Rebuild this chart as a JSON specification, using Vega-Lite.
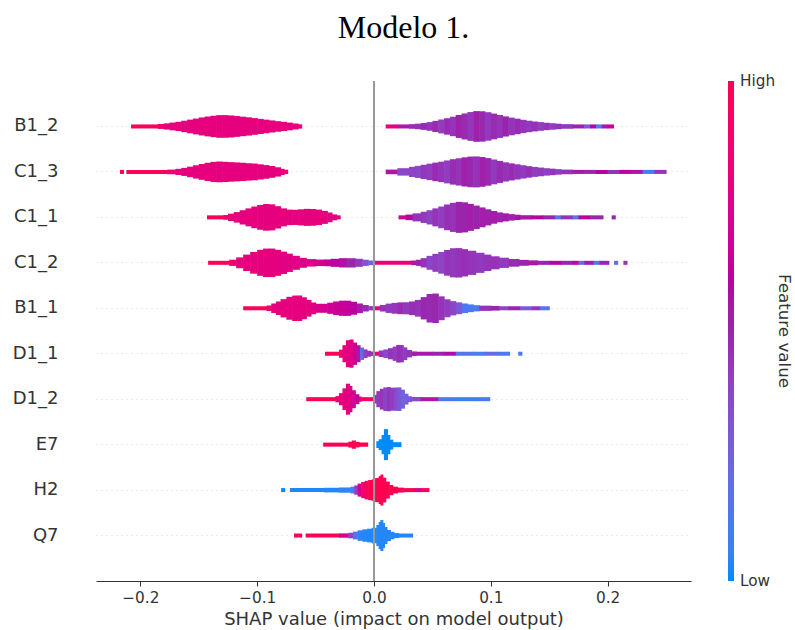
{
"$schema": "https://vega.github.io/schema/vega-lite/v6.json",
"autosize": "none",
"width": 595,
"height": 500,
"padding": {"left": 96, "top": 81, "right": 104, "bottom": 49},
"background": "white",
"title": {"text": "Modelo 1.", "font": "Liberation Serif", "fontSize": 32, "fontWeight": "normal", "color": "black", "anchor": "middle", "frame": "group", "baseline": "alphabetic", "offset": 10, "dx": 10},
"config": {"view": {"stroke": null}},
"datasets": {
"segs": [
{"f":"B1_2","x":-0.208,"x2":-0.185,"d":0.13,"c":0.97},
{"f":"B1_2","x":-0.185,"x2":-0.18,"d":0.16,"c":0.85},
{"f":"B1_2","x":-0.18,"x2":-0.175,"d":0.2,"c":0.8},
{"f":"B1_2","x":-0.175,"x2":-0.17,"d":0.25,"c":0.8},
{"f":"B1_2","x":-0.17,"x2":-0.165,"d":0.3,"c":0.8},
{"f":"B1_2","x":-0.165,"x2":-0.16,"d":0.37,"c":0.8},
{"f":"B1_2","x":-0.16,"x2":-0.155,"d":0.44,"c":0.8},
{"f":"B1_2","x":-0.155,"x2":-0.15,"d":0.51,"c":0.8},
{"f":"B1_2","x":-0.15,"x2":-0.145,"d":0.58,"c":0.8},
{"f":"B1_2","x":-0.145,"x2":-0.14,"d":0.64,"c":0.8},
{"f":"B1_2","x":-0.14,"x2":-0.135,"d":0.69,"c":0.8},
{"f":"B1_2","x":-0.135,"x2":-0.13,"d":0.73,"c":0.8},
{"f":"B1_2","x":-0.13,"x2":-0.125,"d":0.73,"c":0.8},
{"f":"B1_2","x":-0.125,"x2":-0.12,"d":0.71,"c":0.8},
{"f":"B1_2","x":-0.12,"x2":-0.115,"d":0.67,"c":0.8},
{"f":"B1_2","x":-0.115,"x2":-0.11,"d":0.63,"c":0.8},
{"f":"B1_2","x":-0.11,"x2":-0.105,"d":0.59,"c":0.8},
{"f":"B1_2","x":-0.105,"x2":-0.1,"d":0.54,"c":0.8},
{"f":"B1_2","x":-0.1,"x2":-0.095,"d":0.49,"c":0.8},
{"f":"B1_2","x":-0.095,"x2":-0.09,"d":0.44,"c":0.8},
{"f":"B1_2","x":-0.09,"x2":-0.085,"d":0.39,"c":0.8},
{"f":"B1_2","x":-0.085,"x2":-0.08,"d":0.34,"c":0.8},
{"f":"B1_2","x":-0.08,"x2":-0.075,"d":0.3,"c":0.8},
{"f":"B1_2","x":-0.075,"x2":-0.07,"d":0.25,"c":0.8},
{"f":"B1_2","x":-0.07,"x2":-0.065,"d":0.19,"c":0.8},
{"f":"B1_2","x":-0.065,"x2":-0.062,"d":0.14,"c":0.82},
{"f":"B1_2","x":0.01,"x2":0.02,"d":0.13,"c":0.8},
{"f":"B1_2","x":0.02,"x2":0.03,"d":0.13,"c":0.55},
{"f":"B1_2","x":0.03,"x2":0.035,"d":0.15,"c":0.48},
{"f":"B1_2","x":0.035,"x2":0.04,"d":0.18,"c":0.46},
{"f":"B1_2","x":0.04,"x2":0.045,"d":0.22,"c":0.48},
{"f":"B1_2","x":0.045,"x2":0.05,"d":0.28,"c":0.44},
{"f":"B1_2","x":0.05,"x2":0.055,"d":0.36,"c":0.48},
{"f":"B1_2","x":0.055,"x2":0.06,"d":0.45,"c":0.42},
{"f":"B1_2","x":0.06,"x2":0.065,"d":0.53,"c":0.48},
{"f":"B1_2","x":0.065,"x2":0.07,"d":0.63,"c":0.45},
{"f":"B1_2","x":0.07,"x2":0.075,"d":0.74,"c":0.52},
{"f":"B1_2","x":0.075,"x2":0.08,"d":0.84,"c":0.48},
{"f":"B1_2","x":0.08,"x2":0.085,"d":0.93,"c":0.44},
{"f":"B1_2","x":0.085,"x2":0.09,"d":0.99,"c":0.52},
{"f":"B1_2","x":0.09,"x2":0.095,"d":0.98,"c":0.49},
{"f":"B1_2","x":0.095,"x2":0.1,"d":0.92,"c":0.43},
{"f":"B1_2","x":0.1,"x2":0.105,"d":0.83,"c":0.48},
{"f":"B1_2","x":0.105,"x2":0.11,"d":0.74,"c":0.45},
{"f":"B1_2","x":0.11,"x2":0.115,"d":0.65,"c":0.5},
{"f":"B1_2","x":0.115,"x2":0.12,"d":0.57,"c":0.45},
{"f":"B1_2","x":0.12,"x2":0.125,"d":0.5,"c":0.48},
{"f":"B1_2","x":0.125,"x2":0.13,"d":0.43,"c":0.45},
{"f":"B1_2","x":0.13,"x2":0.135,"d":0.37,"c":0.43},
{"f":"B1_2","x":0.135,"x2":0.14,"d":0.32,"c":0.46},
{"f":"B1_2","x":0.14,"x2":0.145,"d":0.28,"c":0.42},
{"f":"B1_2","x":0.145,"x2":0.15,"d":0.24,"c":0.45},
{"f":"B1_2","x":0.15,"x2":0.155,"d":0.21,"c":0.42},
{"f":"B1_2","x":0.155,"x2":0.16,"d":0.18,"c":0.45},
{"f":"B1_2","x":0.16,"x2":0.17,"d":0.15,"c":0.43},
{"f":"B1_2","x":0.17,"x2":0.18,"d":0.13,"c":0.5},
{"f":"B1_2","x":0.18,"x2":0.185,"d":0.13,"c":0.3},
{"f":"B1_2","x":0.185,"x2":0.19,"d":0.13,"c":0.6},
{"f":"B1_2","x":0.19,"x2":0.195,"d":0.13,"c":0.15},
{"f":"B1_2","x":0.195,"x2":0.2,"d":0.13,"c":0.55},
{"f":"B1_2","x":0.2,"x2":0.205,"d":0.13,"c":0.65},

{"f":"C1_3","x":-0.2175,"x2":-0.2145,"d":0.13,"c":1},
{"f":"C1_3","x":-0.212,"x2":-0.177,"d":0.13,"c":0.97},
{"f":"C1_3","x":-0.177,"x2":-0.17,"d":0.15,"c":0.85},
{"f":"C1_3","x":-0.17,"x2":-0.165,"d":0.2,"c":0.8},
{"f":"C1_3","x":-0.165,"x2":-0.16,"d":0.26,"c":0.8},
{"f":"C1_3","x":-0.16,"x2":-0.155,"d":0.34,"c":0.8},
{"f":"C1_3","x":-0.155,"x2":-0.15,"d":0.43,"c":0.8},
{"f":"C1_3","x":-0.15,"x2":-0.145,"d":0.51,"c":0.8},
{"f":"C1_3","x":-0.145,"x2":-0.14,"d":0.59,"c":0.8},
{"f":"C1_3","x":-0.14,"x2":-0.135,"d":0.65,"c":0.8},
{"f":"C1_3","x":-0.135,"x2":-0.13,"d":0.67,"c":0.8},
{"f":"C1_3","x":-0.13,"x2":-0.125,"d":0.65,"c":0.8},
{"f":"C1_3","x":-0.125,"x2":-0.12,"d":0.63,"c":0.8},
{"f":"C1_3","x":-0.12,"x2":-0.115,"d":0.61,"c":0.8},
{"f":"C1_3","x":-0.115,"x2":-0.11,"d":0.59,"c":0.8},
{"f":"C1_3","x":-0.11,"x2":-0.105,"d":0.56,"c":0.8},
{"f":"C1_3","x":-0.105,"x2":-0.1,"d":0.54,"c":0.8},
{"f":"C1_3","x":-0.1,"x2":-0.095,"d":0.49,"c":0.8},
{"f":"C1_3","x":-0.095,"x2":-0.09,"d":0.44,"c":0.8},
{"f":"C1_3","x":-0.09,"x2":-0.085,"d":0.38,"c":0.8},
{"f":"C1_3","x":-0.085,"x2":-0.08,"d":0.3,"c":0.8},
{"f":"C1_3","x":-0.08,"x2":-0.077,"d":0.2,"c":0.8},
{"f":"C1_3","x":-0.077,"x2":-0.074,"d":0.14,"c":0.85},
{"f":"C1_3","x":0.01,"x2":0.02,"d":0.15,"c":0.55},
{"f":"C1_3","x":0.02,"x2":0.03,"d":0.24,"c":0.38},
{"f":"C1_3","x":0.03,"x2":0.035,"d":0.33,"c":0.4},
{"f":"C1_3","x":0.035,"x2":0.04,"d":0.39,"c":0.38},
{"f":"C1_3","x":0.04,"x2":0.045,"d":0.46,"c":0.44},
{"f":"C1_3","x":0.045,"x2":0.05,"d":0.53,"c":0.42},
{"f":"C1_3","x":0.05,"x2":0.055,"d":0.6,"c":0.48},
{"f":"C1_3","x":0.055,"x2":0.06,"d":0.66,"c":0.45},
{"f":"C1_3","x":0.06,"x2":0.065,"d":0.74,"c":0.42},
{"f":"C1_3","x":0.065,"x2":0.07,"d":0.82,"c":0.48},
{"f":"C1_3","x":0.07,"x2":0.075,"d":0.88,"c":0.45},
{"f":"C1_3","x":0.075,"x2":0.08,"d":0.94,"c":0.52},
{"f":"C1_3","x":0.08,"x2":0.085,"d":0.99,"c":0.49},
{"f":"C1_3","x":0.085,"x2":0.09,"d":1.0,"c":0.46},
{"f":"C1_3","x":0.09,"x2":0.095,"d":0.96,"c":0.52},
{"f":"C1_3","x":0.095,"x2":0.1,"d":0.89,"c":0.49},
{"f":"C1_3","x":0.1,"x2":0.105,"d":0.8,"c":0.43},
{"f":"C1_3","x":0.105,"x2":0.11,"d":0.71,"c":0.48},
{"f":"C1_3","x":0.11,"x2":0.115,"d":0.62,"c":0.45},
{"f":"C1_3","x":0.115,"x2":0.12,"d":0.55,"c":0.48},
{"f":"C1_3","x":0.12,"x2":0.125,"d":0.49,"c":0.45},
{"f":"C1_3","x":0.125,"x2":0.13,"d":0.43,"c":0.43},
{"f":"C1_3","x":0.13,"x2":0.135,"d":0.37,"c":0.47},
{"f":"C1_3","x":0.135,"x2":0.14,"d":0.32,"c":0.42},
{"f":"C1_3","x":0.14,"x2":0.145,"d":0.28,"c":0.43},
{"f":"C1_3","x":0.145,"x2":0.15,"d":0.24,"c":0.41},
{"f":"C1_3","x":0.15,"x2":0.155,"d":0.21,"c":0.45},
{"f":"C1_3","x":0.155,"x2":0.16,"d":0.18,"c":0.41},
{"f":"C1_3","x":0.16,"x2":0.17,"d":0.15,"c":0.45},
{"f":"C1_3","x":0.17,"x2":0.18,"d":0.13,"c":0.55},
{"f":"C1_3","x":0.18,"x2":0.19,"d":0.13,"c":0.5},
{"f":"C1_3","x":0.19,"x2":0.2,"d":0.13,"c":0.6},
{"f":"C1_3","x":0.2,"x2":0.21,"d":0.13,"c":0.45},
{"f":"C1_3","x":0.21,"x2":0.22,"d":0.13,"c":0.62},
{"f":"C1_3","x":0.22,"x2":0.23,"d":0.13,"c":0.55},
{"f":"C1_3","x":0.23,"x2":0.24,"d":0.13,"c":0.1},
{"f":"C1_3","x":0.24,"x2":0.25,"d":0.13,"c":0.45},

{"f":"C1_1","x":-0.143,"x2":-0.129,"d":0.13,"c":0.97},
{"f":"C1_1","x":-0.129,"x2":-0.125,"d":0.16,"c":0.85},
{"f":"C1_1","x":-0.125,"x2":-0.12,"d":0.24,"c":0.8},
{"f":"C1_1","x":-0.12,"x2":-0.115,"d":0.34,"c":0.8},
{"f":"C1_1","x":-0.115,"x2":-0.11,"d":0.46,"c":0.8},
{"f":"C1_1","x":-0.11,"x2":-0.105,"d":0.58,"c":0.8},
{"f":"C1_1","x":-0.105,"x2":-0.1,"d":0.7,"c":0.8},
{"f":"C1_1","x":-0.1,"x2":-0.095,"d":0.8,"c":0.8},
{"f":"C1_1","x":-0.095,"x2":-0.09,"d":0.86,"c":0.8},
{"f":"C1_1","x":-0.09,"x2":-0.085,"d":0.84,"c":0.8},
{"f":"C1_1","x":-0.085,"x2":-0.08,"d":0.72,"c":0.8},
{"f":"C1_1","x":-0.08,"x2":-0.075,"d":0.58,"c":0.8},
{"f":"C1_1","x":-0.075,"x2":-0.07,"d":0.5,"c":0.8},
{"f":"C1_1","x":-0.07,"x2":-0.065,"d":0.49,"c":0.8},
{"f":"C1_1","x":-0.065,"x2":-0.06,"d":0.52,"c":0.8},
{"f":"C1_1","x":-0.06,"x2":-0.055,"d":0.55,"c":0.8},
{"f":"C1_1","x":-0.055,"x2":-0.05,"d":0.54,"c":0.8},
{"f":"C1_1","x":-0.05,"x2":-0.045,"d":0.5,"c":0.8},
{"f":"C1_1","x":-0.045,"x2":-0.04,"d":0.42,"c":0.8},
{"f":"C1_1","x":-0.04,"x2":-0.036,"d":0.32,"c":0.8},
{"f":"C1_1","x":-0.036,"x2":-0.032,"d":0.19,"c":0.8},
{"f":"C1_1","x":-0.032,"x2":-0.029,"d":0.13,"c":0.8},
{"f":"C1_1","x":0.021,"x2":0.027,"d":0.13,"c":0.7},
{"f":"C1_1","x":0.027,"x2":0.033,"d":0.18,"c":0.6},
{"f":"C1_1","x":0.033,"x2":0.04,"d":0.26,"c":0.45},
{"f":"C1_1","x":0.04,"x2":0.045,"d":0.36,"c":0.43},
{"f":"C1_1","x":0.045,"x2":0.05,"d":0.46,"c":0.4},
{"f":"C1_1","x":0.05,"x2":0.055,"d":0.58,"c":0.45},
{"f":"C1_1","x":0.055,"x2":0.06,"d":0.7,"c":0.42},
{"f":"C1_1","x":0.06,"x2":0.065,"d":0.83,"c":0.47},
{"f":"C1_1","x":0.065,"x2":0.07,"d":0.94,"c":0.45},
{"f":"C1_1","x":0.07,"x2":0.075,"d":1.0,"c":0.5},
{"f":"C1_1","x":0.075,"x2":0.08,"d":0.97,"c":0.5},
{"f":"C1_1","x":0.08,"x2":0.085,"d":0.87,"c":0.53},
{"f":"C1_1","x":0.085,"x2":0.09,"d":0.76,"c":0.5},
{"f":"C1_1","x":0.09,"x2":0.095,"d":0.64,"c":0.53},
{"f":"C1_1","x":0.095,"x2":0.1,"d":0.52,"c":0.52},
{"f":"C1_1","x":0.1,"x2":0.105,"d":0.41,"c":0.54},
{"f":"C1_1","x":0.105,"x2":0.11,"d":0.32,"c":0.5},
{"f":"C1_1","x":0.11,"x2":0.115,"d":0.26,"c":0.54},
{"f":"C1_1","x":0.115,"x2":0.12,"d":0.21,"c":0.5},
{"f":"C1_1","x":0.12,"x2":0.125,"d":0.17,"c":0.57},
{"f":"C1_1","x":0.125,"x2":0.135,"d":0.14,"c":0.55},
{"f":"C1_1","x":0.135,"x2":0.145,"d":0.13,"c":0.6},
{"f":"C1_1","x":0.145,"x2":0.155,"d":0.13,"c":0.5},
{"f":"C1_1","x":0.155,"x2":0.16,"d":0.13,"c":0.15},
{"f":"C1_1","x":0.16,"x2":0.17,"d":0.13,"c":0.45},
{"f":"C1_1","x":0.17,"x2":0.175,"d":0.13,"c":0.15},
{"f":"C1_1","x":0.175,"x2":0.185,"d":0.13,"c":0.6},
{"f":"C1_1","x":0.185,"x2":0.196,"d":0.13,"c":0.5},
{"f":"C1_1","x":0.2035,"x2":0.2065,"d":0.13,"c":0.5},

{"f":"C1_2","x":-0.142,"x2":-0.124,"d":0.13,"c":0.97},
{"f":"C1_2","x":-0.124,"x2":-0.118,"d":0.2,"c":0.85},
{"f":"C1_2","x":-0.118,"x2":-0.112,"d":0.35,"c":0.8},
{"f":"C1_2","x":-0.112,"x2":-0.106,"d":0.53,"c":0.8},
{"f":"C1_2","x":-0.106,"x2":-0.1,"d":0.7,"c":0.8},
{"f":"C1_2","x":-0.1,"x2":-0.095,"d":0.84,"c":0.8},
{"f":"C1_2","x":-0.095,"x2":-0.09,"d":0.92,"c":0.8},
{"f":"C1_2","x":-0.09,"x2":-0.085,"d":0.92,"c":0.8},
{"f":"C1_2","x":-0.085,"x2":-0.08,"d":0.84,"c":0.79},
{"f":"C1_2","x":-0.08,"x2":-0.075,"d":0.72,"c":0.78},
{"f":"C1_2","x":-0.075,"x2":-0.07,"d":0.59,"c":0.77},
{"f":"C1_2","x":-0.07,"x2":-0.064,"d":0.45,"c":0.76},
{"f":"C1_2","x":-0.064,"x2":-0.058,"d":0.32,"c":0.75},
{"f":"C1_2","x":-0.058,"x2":-0.05,"d":0.24,"c":0.73},
{"f":"C1_2","x":-0.05,"x2":-0.043,"d":0.21,"c":0.7},
{"f":"C1_2","x":-0.043,"x2":-0.037,"d":0.22,"c":0.66},
{"f":"C1_2","x":-0.037,"x2":-0.03,"d":0.26,"c":0.62},
{"f":"C1_2","x":-0.03,"x2":-0.023,"d":0.3,"c":0.57},
{"f":"C1_2","x":-0.023,"x2":-0.016,"d":0.3,"c":0.5},
{"f":"C1_2","x":-0.016,"x2":-0.01,"d":0.26,"c":0.43},
{"f":"C1_2","x":-0.01,"x2":-0.005,"d":0.2,"c":0.33},
{"f":"C1_2","x":-0.005,"x2":0,"d":0.15,"c":0.22},
{"f":"C1_2","x":0,"x2":0.032,"d":0.13,"c":0.82},
{"f":"C1_2","x":0.032,"x2":0.036,"d":0.15,"c":0.55},
{"f":"C1_2","x":0.036,"x2":0.04,"d":0.2,"c":0.5},
{"f":"C1_2","x":0.04,"x2":0.045,"d":0.3,"c":0.45},
{"f":"C1_2","x":0.045,"x2":0.05,"d":0.45,"c":0.38},
{"f":"C1_2","x":0.05,"x2":0.055,"d":0.58,"c":0.42},
{"f":"C1_2","x":0.055,"x2":0.06,"d":0.7,"c":0.4},
{"f":"C1_2","x":0.06,"x2":0.065,"d":0.83,"c":0.45},
{"f":"C1_2","x":0.065,"x2":0.07,"d":0.94,"c":0.43},
{"f":"C1_2","x":0.07,"x2":0.075,"d":0.95,"c":0.45},
{"f":"C1_2","x":0.075,"x2":0.08,"d":0.88,"c":0.47},
{"f":"C1_2","x":0.08,"x2":0.087,"d":0.78,"c":0.45},
{"f":"C1_2","x":0.087,"x2":0.094,"d":0.65,"c":0.43},
{"f":"C1_2","x":0.094,"x2":0.1,"d":0.53,"c":0.45},
{"f":"C1_2","x":0.1,"x2":0.107,"d":0.42,"c":0.45},
{"f":"C1_2","x":0.107,"x2":0.115,"d":0.33,"c":0.43},
{"f":"C1_2","x":0.115,"x2":0.124,"d":0.25,"c":0.48},
{"f":"C1_2","x":0.124,"x2":0.132,"d":0.19,"c":0.5},
{"f":"C1_2","x":0.132,"x2":0.14,"d":0.16,"c":0.55},
{"f":"C1_2","x":0.14,"x2":0.15,"d":0.13,"c":0.5},
{"f":"C1_2","x":0.15,"x2":0.16,"d":0.13,"c":0.6},
{"f":"C1_2","x":0.16,"x2":0.17,"d":0.13,"c":0.5},
{"f":"C1_2","x":0.17,"x2":0.175,"d":0.13,"c":0.65},
{"f":"C1_2","x":0.175,"x2":0.18,"d":0.13,"c":0.2},
{"f":"C1_2","x":0.18,"x2":0.188,"d":0.13,"c":0.55},
{"f":"C1_2","x":0.188,"x2":0.193,"d":0.13,"c":0.1},
{"f":"C1_2","x":0.193,"x2":0.201,"d":0.13,"c":0.5},
{"f":"C1_2","x":0.2055,"x2":0.2085,"d":0.13,"c":0.2},
{"f":"C1_2","x":0.2135,"x2":0.2165,"d":0.13,"c":0.45},

{"f":"B1_1","x":-0.112,"x2":-0.092,"d":0.13,"c":0.97},
{"f":"B1_1","x":-0.092,"x2":-0.088,"d":0.18,"c":0.85},
{"f":"B1_1","x":-0.088,"x2":-0.084,"d":0.3,"c":0.8},
{"f":"B1_1","x":-0.084,"x2":-0.08,"d":0.44,"c":0.8},
{"f":"B1_1","x":-0.08,"x2":-0.075,"d":0.59,"c":0.8},
{"f":"B1_1","x":-0.075,"x2":-0.07,"d":0.74,"c":0.8},
{"f":"B1_1","x":-0.07,"x2":-0.066,"d":0.82,"c":0.8},
{"f":"B1_1","x":-0.066,"x2":-0.062,"d":0.82,"c":0.8},
{"f":"B1_1","x":-0.062,"x2":-0.058,"d":0.71,"c":0.8},
{"f":"B1_1","x":-0.058,"x2":-0.054,"d":0.54,"c":0.79},
{"f":"B1_1","x":-0.054,"x2":-0.05,"d":0.38,"c":0.77},
{"f":"B1_1","x":-0.05,"x2":-0.045,"d":0.29,"c":0.74},
{"f":"B1_1","x":-0.045,"x2":-0.04,"d":0.29,"c":0.71},
{"f":"B1_1","x":-0.04,"x2":-0.035,"d":0.36,"c":0.69},
{"f":"B1_1","x":-0.035,"x2":-0.03,"d":0.44,"c":0.67},
{"f":"B1_1","x":-0.03,"x2":-0.025,"d":0.49,"c":0.66},
{"f":"B1_1","x":-0.025,"x2":-0.02,"d":0.49,"c":0.64},
{"f":"B1_1","x":-0.02,"x2":-0.015,"d":0.42,"c":0.61},
{"f":"B1_1","x":-0.015,"x2":-0.01,"d":0.31,"c":0.55},
{"f":"B1_1","x":-0.01,"x2":-0.005,"d":0.21,"c":0.48},
{"f":"B1_1","x":-0.005,"x2":0,"d":0.14,"c":0.42},
{"f":"B1_1","x":0,"x2":0.005,"d":0.13,"c":0.82},
{"f":"B1_1","x":0.005,"x2":0.01,"d":0.21,"c":0.45},
{"f":"B1_1","x":0.01,"x2":0.015,"d":0.3,"c":0.43},
{"f":"B1_1","x":0.015,"x2":0.02,"d":0.35,"c":0.45},
{"f":"B1_1","x":0.02,"x2":0.025,"d":0.38,"c":0.48},
{"f":"B1_1","x":0.025,"x2":0.03,"d":0.39,"c":0.43},
{"f":"B1_1","x":0.03,"x2":0.035,"d":0.44,"c":0.47},
{"f":"B1_1","x":0.035,"x2":0.04,"d":0.54,"c":0.45},
{"f":"B1_1","x":0.04,"x2":0.045,"d":0.72,"c":0.49},
{"f":"B1_1","x":0.045,"x2":0.05,"d":0.92,"c":0.48},
{"f":"B1_1","x":0.05,"x2":0.055,"d":0.95,"c":0.49},
{"f":"B1_1","x":0.055,"x2":0.06,"d":0.77,"c":0.45},
{"f":"B1_1","x":0.06,"x2":0.065,"d":0.58,"c":0.42},
{"f":"B1_1","x":0.065,"x2":0.07,"d":0.46,"c":0.38},
{"f":"B1_1","x":0.07,"x2":0.075,"d":0.38,"c":0.3},
{"f":"B1_1","x":0.075,"x2":0.08,"d":0.31,"c":0.12},
{"f":"B1_1","x":0.08,"x2":0.085,"d":0.25,"c":0.1},
{"f":"B1_1","x":0.085,"x2":0.09,"d":0.2,"c":0.12},
{"f":"B1_1","x":0.09,"x2":0.1,"d":0.17,"c":0.45},
{"f":"B1_1","x":0.1,"x2":0.107,"d":0.15,"c":0.5},
{"f":"B1_1","x":0.107,"x2":0.115,"d":0.13,"c":0.4},
{"f":"B1_1","x":0.115,"x2":0.125,"d":0.13,"c":0.5},
{"f":"B1_1","x":0.125,"x2":0.135,"d":0.13,"c":0.3},
{"f":"B1_1","x":0.135,"x2":0.142,"d":0.13,"c":0.45},
{"f":"B1_1","x":0.142,"x2":0.15,"d":0.13,"c":0.15},

{"f":"D1_1","x":-0.042,"x2":-0.03,"d":0.13,"c":0.97},
{"f":"D1_1","x":-0.03,"x2":-0.027,"d":0.26,"c":0.85},
{"f":"D1_1","x":-0.027,"x2":-0.024,"d":0.55,"c":0.8},
{"f":"D1_1","x":-0.024,"x2":-0.021,"d":0.87,"c":0.79},
{"f":"D1_1","x":-0.021,"x2":-0.018,"d":0.91,"c":0.75},
{"f":"D1_1","x":-0.018,"x2":-0.015,"d":0.72,"c":0.68},
{"f":"D1_1","x":-0.015,"x2":-0.012,"d":0.55,"c":0.56},
{"f":"D1_1","x":-0.012,"x2":-0.009,"d":0.4,"c":0.2},
{"f":"D1_1","x":-0.009,"x2":-0.006,"d":0.28,"c":0.42},
{"f":"D1_1","x":-0.006,"x2":-0.003,"d":0.19,"c":0.45},
{"f":"D1_1","x":-0.003,"x2":0,"d":0.14,"c":0.45},
{"f":"D1_1","x":0,"x2":0.004,"d":0.13,"c":0.82},
{"f":"D1_1","x":0.004,"x2":0.008,"d":0.21,"c":0.45},
{"f":"D1_1","x":0.008,"x2":0.012,"d":0.28,"c":0.37},
{"f":"D1_1","x":0.012,"x2":0.016,"d":0.36,"c":0.45},
{"f":"D1_1","x":0.016,"x2":0.019,"d":0.46,"c":0.42},
{"f":"D1_1","x":0.019,"x2":0.022,"d":0.57,"c":0.47},
{"f":"D1_1","x":0.022,"x2":0.025,"d":0.56,"c":0.45},
{"f":"D1_1","x":0.025,"x2":0.028,"d":0.41,"c":0.42},
{"f":"D1_1","x":0.028,"x2":0.032,"d":0.24,"c":0.45},
{"f":"D1_1","x":0.032,"x2":0.036,"d":0.15,"c":0.5},
{"f":"D1_1","x":0.036,"x2":0.05,"d":0.13,"c":0.55},
{"f":"D1_1","x":0.05,"x2":0.06,"d":0.13,"c":0.5},
{"f":"D1_1","x":0.06,"x2":0.07,"d":0.13,"c":0.58},
{"f":"D1_1","x":0.07,"x2":0.085,"d":0.13,"c":0.15},
{"f":"D1_1","x":0.085,"x2":0.095,"d":0.13,"c":0.1},
{"f":"D1_1","x":0.095,"x2":0.105,"d":0.13,"c":0.2},
{"f":"D1_1","x":0.105,"x2":0.116,"d":0.13,"c":0.12},
{"f":"D1_1","x":0.1235,"x2":0.1265,"d":0.13,"c":0.1},

{"f":"D1_2","x":-0.058,"x2":-0.033,"d":0.13,"c":0.97},
{"f":"D1_2","x":-0.033,"x2":-0.03,"d":0.2,"c":0.85},
{"f":"D1_2","x":-0.03,"x2":-0.027,"d":0.39,"c":0.8},
{"f":"D1_2","x":-0.027,"x2":-0.024,"d":0.7,"c":0.8},
{"f":"D1_2","x":-0.024,"x2":-0.021,"d":1.0,"c":0.79},
{"f":"D1_2","x":-0.021,"x2":-0.019,"d":0.85,"c":0.77},
{"f":"D1_2","x":-0.019,"x2":-0.016,"d":0.58,"c":0.7},
{"f":"D1_2","x":-0.016,"x2":-0.013,"d":0.32,"c":0.62},
{"f":"D1_2","x":-0.013,"x2":-0.011,"d":0.17,"c":0.85},
{"f":"D1_2","x":-0.011,"x2":0,"d":0.13,"c":0.9},
{"f":"D1_2","x":0,"x2":0.002,"d":0.28,"c":0.45},
{"f":"D1_2","x":0.002,"x2":0.005,"d":0.52,"c":0.43},
{"f":"D1_2","x":0.005,"x2":0.008,"d":0.67,"c":0.45},
{"f":"D1_2","x":0.008,"x2":0.011,"d":0.76,"c":0.39},
{"f":"D1_2","x":0.011,"x2":0.014,"d":0.78,"c":0.45},
{"f":"D1_2","x":0.014,"x2":0.017,"d":0.74,"c":0.42},
{"f":"D1_2","x":0.017,"x2":0.02,"d":0.75,"c":0.36},
{"f":"D1_2","x":0.02,"x2":0.023,"d":0.76,"c":0.3},
{"f":"D1_2","x":0.023,"x2":0.026,"d":0.61,"c":0.25},
{"f":"D1_2","x":0.026,"x2":0.029,"d":0.35,"c":0.25},
{"f":"D1_2","x":0.029,"x2":0.032,"d":0.19,"c":0.3},
{"f":"D1_2","x":0.032,"x2":0.04,"d":0.14,"c":0.35},
{"f":"D1_2","x":0.04,"x2":0.055,"d":0.13,"c":0.55},
{"f":"D1_2","x":0.055,"x2":0.07,"d":0.13,"c":0.12},
{"f":"D1_2","x":0.07,"x2":0.085,"d":0.13,"c":0.08},
{"f":"D1_2","x":0.085,"x2":0.099,"d":0.13,"c":0.1},

{"f":"E7","x":-0.0435,"x2":-0.022,"d":0.13,"c":0.98},
{"f":"E7","x":-0.022,"x2":-0.019,"d":0.19,"c":1},
{"f":"E7","x":-0.019,"x2":-0.016,"d":0.26,"c":1},
{"f":"E7","x":-0.016,"x2":-0.013,"d":0.18,"c":1},
{"f":"E7","x":-0.013,"x2":-0.0055,"d":0.14,"c":1},
{"f":"E7","x":0.002,"x2":0.004,"d":0.22,"c":0},
{"f":"E7","x":0.004,"x2":0.0065,"d":0.35,"c":0},
{"f":"E7","x":0.0065,"x2":0.0085,"d":0.62,"c":0},
{"f":"E7","x":0.0085,"x2":0.0115,"d":1.0,"c":0},
{"f":"E7","x":0.0115,"x2":0.0135,"d":0.62,"c":0},
{"f":"E7","x":0.0135,"x2":0.016,"d":0.32,"c":0},
{"f":"E7","x":0.016,"x2":0.023,"d":0.16,"c":0},

{"f":"H2","x":-0.0795,"x2":-0.0765,"d":0.13,"c":0},
{"f":"H2","x":-0.072,"x2":-0.043,"d":0.13,"c":0.02},
{"f":"H2","x":-0.043,"x2":-0.03,"d":0.15,"c":0.03},
{"f":"H2","x":-0.03,"x2":-0.02,"d":0.17,"c":0.05},
{"f":"H2","x":-0.02,"x2":-0.017,"d":0.22,"c":0.1},
{"f":"H2","x":-0.017,"x2":-0.014,"d":0.3,"c":0.4},
{"f":"H2","x":-0.014,"x2":-0.011,"d":0.42,"c":0.7},
{"f":"H2","x":-0.011,"x2":-0.008,"d":0.52,"c":0.85},
{"f":"H2","x":-0.008,"x2":-0.005,"d":0.6,"c":0.95},
{"f":"H2","x":-0.005,"x2":-0.002,"d":0.65,"c":1},
{"f":"H2","x":-0.002,"x2":0.001,"d":0.69,"c":1},
{"f":"H2","x":0.001,"x2":0.004,"d":0.78,"c":1},
{"f":"H2","x":0.004,"x2":0.0055,"d":0.9,"c":1},
{"f":"H2","x":0.0055,"x2":0.0075,"d":1.0,"c":1},
{"f":"H2","x":0.0075,"x2":0.01,"d":0.8,"c":1},
{"f":"H2","x":0.01,"x2":0.013,"d":0.55,"c":1},
{"f":"H2","x":0.013,"x2":0.016,"d":0.33,"c":1},
{"f":"H2","x":0.016,"x2":0.02,"d":0.22,"c":1},
{"f":"H2","x":0.02,"x2":0.025,"d":0.16,"c":1},
{"f":"H2","x":0.025,"x2":0.035,"d":0.13,"c":1},
{"f":"H2","x":0.035,"x2":0.04,"d":0.13,"c":0.7},
{"f":"H2","x":0.04,"x2":0.047,"d":0.13,"c":0.95},

{"f":"Q7","x":-0.0685,"x2":-0.0655,"d":0.13,"c":1},
{"f":"Q7","x":-0.065,"x2":-0.062,"d":0.13,"c":1},
{"f":"Q7","x":-0.0585,"x2":-0.03,"d":0.13,"c":0.98},
{"f":"Q7","x":-0.03,"x2":-0.022,"d":0.14,"c":0.7},
{"f":"Q7","x":-0.022,"x2":-0.018,"d":0.18,"c":0.4},
{"f":"Q7","x":-0.018,"x2":-0.014,"d":0.25,"c":0.15},
{"f":"Q7","x":-0.014,"x2":-0.01,"d":0.34,"c":0.05},
{"f":"Q7","x":-0.01,"x2":-0.006,"d":0.4,"c":0.03},
{"f":"Q7","x":-0.006,"x2":-0.002,"d":0.44,"c":0.03},
{"f":"Q7","x":-0.002,"x2":0.002,"d":0.5,"c":0.03},
{"f":"Q7","x":0.002,"x2":0.004,"d":0.68,"c":0.03},
{"f":"Q7","x":0.004,"x2":0.0055,"d":0.88,"c":0.03},
{"f":"Q7","x":0.0055,"x2":0.0075,"d":1.0,"c":0.03},
{"f":"Q7","x":0.0075,"x2":0.009,"d":0.8,"c":0.03},
{"f":"Q7","x":0.009,"x2":0.011,"d":0.55,"c":0.03},
{"f":"Q7","x":0.011,"x2":0.014,"d":0.36,"c":0.03},
{"f":"Q7","x":0.014,"x2":0.017,"d":0.24,"c":0.03},
{"f":"Q7","x":0.017,"x2":0.021,"d":0.16,"c":0.03},
{"f":"Q7","x":0.021,"x2":0.033,"d":0.13,"c":0.03}
]
},
"layer": [
{
"data": {"name": "segs"},
"mark": {"type": "bar", "orient": "horizontal", "x2Offset": 0.6},
"encoding": {
"y": {"field": "f", "type": "nominal", "sort": ["B1_2","C1_3","C1_1","C1_2","B1_1","D1_1","D1_2","E7","H2","Q7"], "scale": {"paddingInner": 0, "paddingOuter": 0.5},
 "axis": {"title": null, "domain": false, "ticks": false, "labelPadding": 38, "labelFont": "DejaVu Sans", "labelFontSize": 18, "labelColor": "#333333", "grid": true, "bandPosition": 0.5, "gridColor": "#cccccc", "gridDash": [1, 4], "gridWidth": 0.8}},
"x": {"field": "x", "type": "quantitative", "scale": {"domain": [-0.238, 0.2714], "nice": false, "zero": false},
 "axis": {"title": "SHAP value (impact on model output)", "values": [-0.2, -0.1, 0, 0.1, 0.2], "format": ".1f", "grid": false, "domainColor": "#333333", "domainWidth": 1, "tickColor": "#333333", "tickSize": 5, "tickWidth": 1, "labelFont": "DejaVu Sans", "labelFontSize": 15.3, "labelColor": "#333333", "labelPadding": 4, "titleFont": "DejaVu Sans", "titleFontSize": 18, "titleFontWeight": "normal", "titleColor": "#333333", "titlePadding": 5}},
"x2": {"field": "x2"},
"size": {"field": "d", "type": "quantitative", "scale": {"domain": [0, 1], "range": [0, 31]}, "legend": null},
"color": {"field": "c", "type": "quantitative", "scale": {"domain": [0, 0.5, 1], "range": ["#008bfb", "#9b24ad", "#ff0051"], "interpolate": "hcl"},
 "legend": {"type": "gradient", "orient": "none", "legendX": 632, "legendY": 0, "direction": "vertical", "gradientLength": 500, "gradientThickness": 6, "gradientStrokeWidth": 0, "values": [0, 1], "labelExpr": "datum.value >= 1 ? 'High' : 'Low'", "labelFont": "DejaVu Sans", "labelFontSize": 15.3, "labelColor": "#333333", "labelOffset": 6, "title": "Feature value", "titleOrient": "right", "titleAngle": 90, "titleAnchor": "middle", "titleFont": "DejaVu Sans", "titleFontSize": 16.7, "titleFontWeight": "normal", "titleColor": "#333333", "titlePadding": 0,
  "encode": {"labels": {"update": {"baseline": {"value": "middle"}}}}}}
}
},
{
"data": {"values": [{}]},
"mark": {"type": "rule", "color": "#999999", "strokeWidth": 2},
"encoding": {"x": {"datum": 0}}
}
]
}
